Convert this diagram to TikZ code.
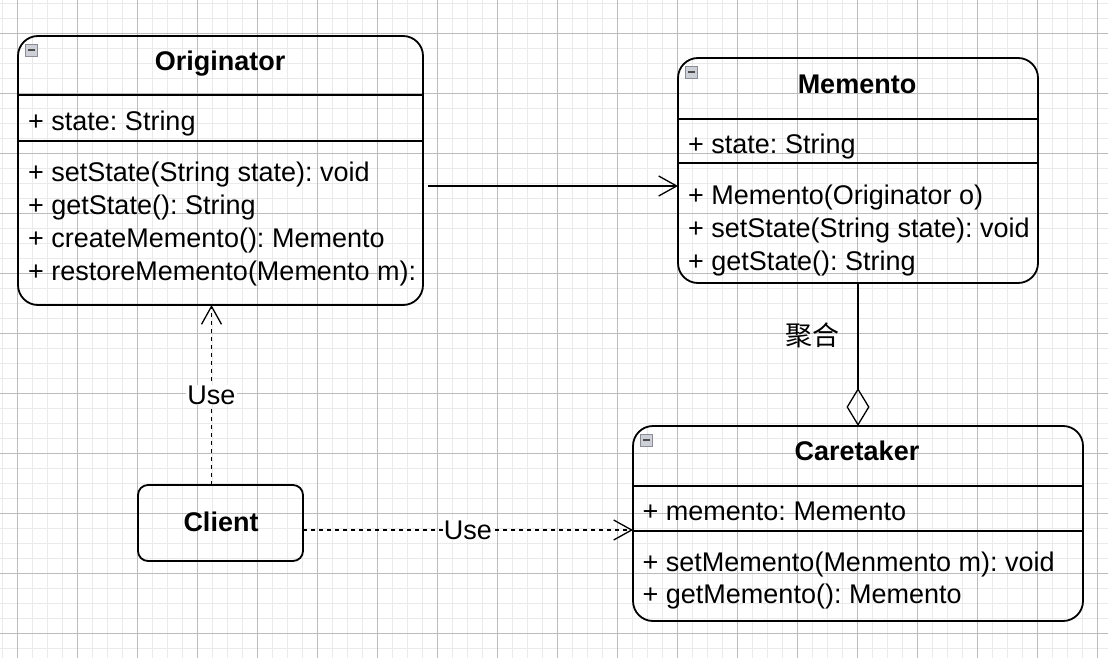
\documentclass[tikz,border=0pt]{standalone}
\usepackage{fontspec}
\setmainfont{Liberation Sans}
\newfontfamily\cjk{Noto Sans CJK SC}
\usetikzlibrary{arrows.meta,calc}
\definecolor{gridminor}{RGB}{234,234,234}
\definecolor{gridmajor}{RGB}{188,188,188}
\definecolor{iconfill}{RGB}{205,208,214}
\definecolor{iconedge}{RGB}{140,140,150}
\frenchspacing
\begin{document}
\begin{tikzpicture}[x=1pt,y=-1pt,
  every node/.style={font=\fontsize{27}{33}\selectfont},
  umlbox/.style={draw=black, line width=1.8pt, rounded corners=20pt, inner sep=0pt, outer sep=0pt},
  sepline/.style={draw=black, line width=1.6pt},
  title/.style={anchor=base, font=\fontsize{27}{33}\selectfont\bfseries},
  member/.style={anchor=base west, inner sep=0pt},
  icon/.style={draw=iconedge, fill=iconfill, line width=0.8pt, minimum width=12pt, minimum height=12pt, inner sep=0pt},
  conn/.style={line width=1.3pt, -{Straight Barb[length=18pt,width=20pt,line width=1.3pt]}},
  dashedconn/.style={conn, dash pattern=on 4pt off 4pt},
  lbl/.style={fill=white, inner sep=1pt}
]
\useasboundingbox (0,0) rectangle (1108,658);
% grid
\foreach \i in {0,...,74} {\draw[gridminor, line width=0.8pt] (2+15*\i,0) -- (2+15*\i,658);}
\foreach \i in {0,...,44} {\draw[gridminor, line width=0.8pt] (0,3+15*\i) -- (1108,3+15*\i);}
\foreach \i in {0,...,18} {\draw[gridmajor, line width=0.9pt] (17+60*\i,0) -- (17+60*\i,658);}
\foreach \i in {-1,...,10} {\draw[gridmajor, line width=0.9pt] (0,33+60*\i) -- (1108,33+60*\i);}

% Originator
\node[umlbox, minimum width=405pt, minimum height=269pt] (orig) at (220.5,170.5) {};
\draw[sepline] ([yshift=-59pt]orig.north west) -- ([yshift=-59pt]orig.north east);
\draw[sepline] ([yshift=-105pt]orig.north west) -- ([yshift=-105pt]orig.north east);
\node[icon] (origicon) at (31.5,50) {};
\draw[line width=1.2pt, black!70] ([xshift=3pt]origicon.west) -- ([xshift=-3pt]origicon.east);
\node[title] (origtitle) at (220,70.7) {Originator};
\node[member] (o1) at (28,131) {+ state: String};
\node[member] (o2) at (28,181.5) {+ setState(String state): void};
\node[member] (o3) at (28,214.5) {+ getState(): String};
\node[member] (o4) at (28,247.5) {+ createMemento(): Memento};
\node[member] (o5) at (28,280.5) {+ restoreMemento(Memento m):};

% Memento
\node[umlbox, minimum width=360pt, minimum height=225pt] (memento) at (858,170.5) {};
\draw[sepline] ([yshift=-61pt]memento.north west) -- ([yshift=-61pt]memento.north east);
\draw[sepline] ([yshift=-105pt]memento.north west) -- ([yshift=-105pt]memento.north east);
\node[icon] (memicon) at (691.5,72) {};
\draw[line width=1.2pt, black!70] ([xshift=3pt]memicon.west) -- ([xshift=-3pt]memicon.east);
\node[title] (memtitle) at (857,93.3) {Memento};
\node[member] (m1) at (688,153.3) {+ state: String};
\node[member] (m2) at (688,204) {+ Memento(Originator o)};
\node[member] (m3) at (688,237.3) {+ setState(String state): void};
\node[member] (m4) at (688,270.3) {+ getState(): String};

% Caretaker
\node[umlbox, minimum width=450pt, minimum height=195pt] (caretaker) at (858,523.5) {};
\draw[sepline] ([yshift=-60pt]caretaker.north west) -- ([yshift=-60pt]caretaker.north east);
\draw[sepline] ([yshift=-105pt]caretaker.north west) -- ([yshift=-105pt]caretaker.north east);
\node[icon] (careicon) at (646.5,440) {};
\draw[line width=1.2pt, black!70] ([xshift=3pt]careicon.west) -- ([xshift=-3pt]careicon.east);
\node[title] (caretitle) at (857,460) {Caretaker};
\node[member] (c1) at (642.5,520) {+ memento: Memento};
\node[member] (c2) at (642.5,571) {+ setMemento(Menmento m): void};
\node[member] (c3) at (642.5,603.5) {+ getMemento(): Memento};

% Client
\node[umlbox, rounded corners=10pt, minimum width=165pt, minimum height=76pt] (client) at (220.5,523) {};
\node[title] (clienttitle) at (221,531.7) {Client};

% connectors
\draw[conn, shorten <=5pt] ([yshift=-15.5pt]orig.east) -- ([yshift=-15.5pt]memento.west);
\draw[dashedconn] ([xshift=-9pt]client.north) -- ([xshift=-9pt]orig.south)
  node[lbl, midway] (use1) {Use};
\draw[dashedconn] ([yshift=-7pt]client.east) -- ([yshift=-6.5pt]caretaker.west)
  node[lbl, midway] (use2) {Use};
\draw[line width=1.3pt, -{Diamond[open,length=38pt,width=23pt,line width=1.3pt]}] (memento.south) -- (caretaker.north);
\node (agg) at (812,335) {\cjk 聚合};
\end{tikzpicture}
\end{document}
